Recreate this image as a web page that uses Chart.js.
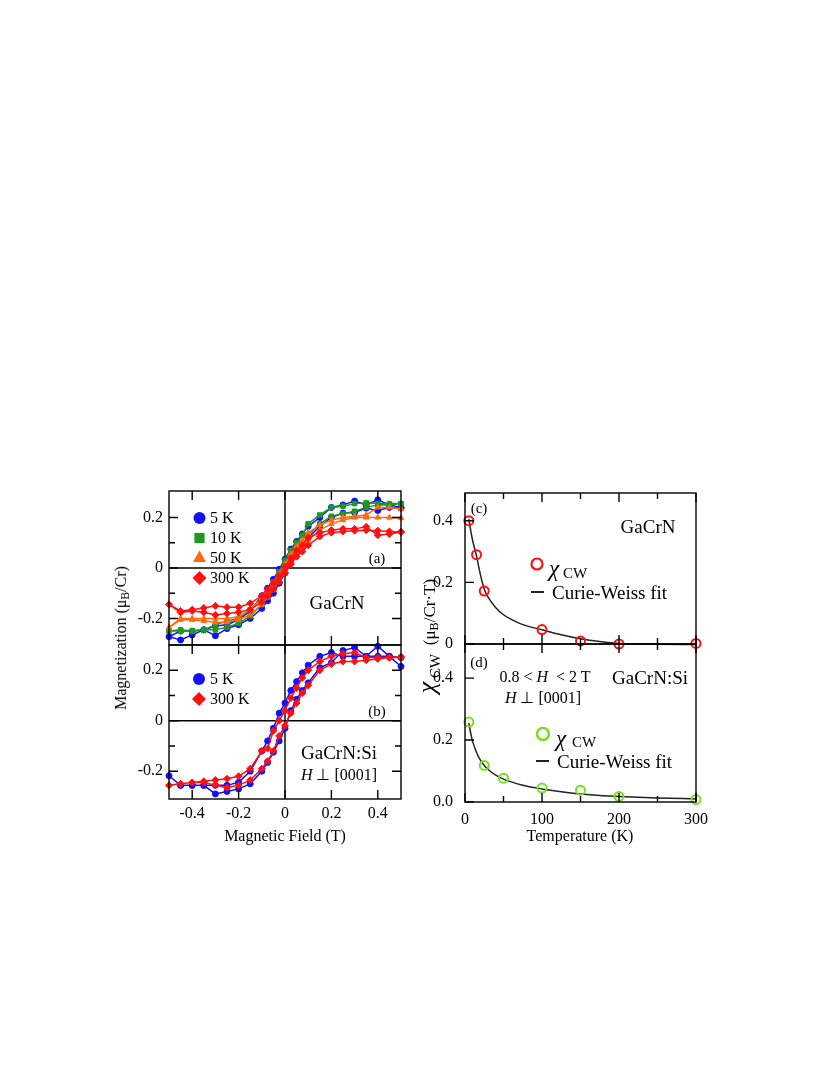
<!DOCTYPE html>
<html>
<head>
<meta charset="utf-8">
<script src="https://cdn.jsdelivr.net/npm/chart.js@4.4.0/dist/chart.umd.min.js"></script>
<style>
  body { margin: 0; background: #fff; }
  #wrap { position: relative; width: 830px; height: 1075px; font-family: 'Liberation Serif', serif; color: #000; }
  canvas { position: absolute; }
  .t { position: absolute; white-space: nowrap; line-height: 1; transform: translate(-50%, -50%); }
  .l { position: absolute; white-space: nowrap; line-height: 1; transform: translate(0, -50%); }
  .r90 { transform: translate(-50%, -50%) rotate(-90deg); }
  sub { font-size: 0.72em; vertical-align: -0.25em; line-height: 0; }
</style>
</head>
<body>
<div id="wrap">
  <canvas id="ca" width="304" height="178" style="left:109px;top:479px"></canvas>
  <canvas id="cb" width="304" height="201" style="left:109px;top:633px"></canvas>
  <canvas id="cc" width="303" height="175" style="left:405px;top:481px"></canvas>
  <canvas id="cd" width="303" height="205" style="left:405px;top:632px"></canvas>

  <div class="t r90" style="left:121px;top:638px;font-size:16px">Magnetization (μ<sub>B</sub>/Cr)</div>
  <div class="t" style="left:285px;top:836px;font-size:16px">Magnetic Field (T)</div>
  <div class="t r90" style="left:427px;top:636px;font-size:17px"><span style="font-size:26px;font-style:italic">χ</span><span style="font-size:15px;position:relative;top:5px"> CW</span>&nbsp; (μ<sub>B</sub>/Cr·T)</div>
  <div class="t" style="left:580px;top:836px;font-size:16px">Temperature (K)</div>

  <div class="l" style="left:210px;top:518px;font-size:16px">5 K</div>
  <div class="l" style="left:210px;top:538px;font-size:16px">10 K</div>
  <div class="l" style="left:210px;top:558px;font-size:16px">50 K</div>
  <div class="l" style="left:210px;top:578px;font-size:16px">300 K</div>
  <div class="t" style="left:377px;top:558px;font-size:15px">(a)</div>
  <div class="t" style="left:337px;top:602px;font-size:19px">GaCrN</div>

  <div class="l" style="left:210px;top:679px;font-size:16px">5 K</div>
  <div class="l" style="left:210px;top:699px;font-size:16px">300 K</div>
  <div class="t" style="left:377px;top:711px;font-size:15px">(b)</div>
  <div class="t" style="left:339px;top:752px;font-size:19px">GaCrN:Si</div>
  <div class="t" style="left:339px;top:775px;font-size:16px"><i>H</i> ⊥ [0001]</div>

  <div class="t" style="left:479px;top:508px;font-size:15px">(c)</div>
  <div class="t" style="left:648px;top:526px;font-size:19px">GaCrN</div>
  <div class="l" style="left:549px;top:568px;font-size:23px;font-style:italic">χ</div>
  <div class="l" style="left:563px;top:573px;font-size:15px">CW</div>
  <div class="l" style="left:552px;top:592px;font-size:19px">Curie-Weiss fit</div>

  <div class="t" style="left:479px;top:662px;font-size:15px">(d)</div>
  <div class="t" style="left:545px;top:677px;font-size:16px">0.8 &lt; <i>H</i>&nbsp; &lt; 2 T</div>
  <div class="t" style="left:543px;top:698px;font-size:16px"><i>H</i> ⊥ [0001]</div>
  <div class="t" style="left:650px;top:677px;font-size:19px">GaCrN:Si</div>
  <div class="l" style="left:556px;top:738px;font-size:23px;font-style:italic">χ</div>
  <div class="l" style="left:572px;top:742px;font-size:15px">CW</div>
  <div class="l" style="left:557px;top:761px;font-size:19px">Curie-Weiss fit</div>
</div>

<script>
Chart.defaults.font.family = "'Liberation Serif', serif";
Chart.defaults.color = "#000";

// magnetic field steps of the loops (T)
const fields = [-0.5, -0.45, -0.4, -0.35, -0.3, -0.25, -0.2, -0.15, -0.1, -0.075, -0.05, -0.025, 0,
  0.025, 0.05, 0.075, 0.1, 0.15, 0.2, 0.25, 0.3, 0.35, 0.4, 0.45, 0.5];

// (a) GaCrN, branch coming down from +0.5 (dec) and going back up (inc), in field order
const a5Dec = [-0.272, -0.25, -0.25, -0.245, -0.23, -0.225, -0.205, -0.17, -0.11, -0.08, -0.045, -0.005, 0.035,
  0.075, 0.105, 0.135, 0.165, 0.2, 0.24, 0.25, 0.265, 0.25, 0.27, 0.25, 0.24];
const a5Inc = [-0.272, -0.285, -0.265, -0.245, -0.268, -0.24, -0.225, -0.2, -0.16, -0.13, -0.1, -0.06, -0.02,
  0.02, 0.06, 0.09, 0.12, 0.165, 0.2, 0.218, 0.22, 0.237, 0.228, 0.24, 0.237];
const a10Dec = [-0.25, -0.25, -0.25, -0.245, -0.225, -0.21, -0.2, -0.165, -0.12, -0.09, -0.055, -0.015, 0.03,
  0.07, 0.1, 0.13, 0.175, 0.21, 0.24, 0.245, 0.255, 0.258, 0.255, 0.255, 0.255];
const a10Inc = [-0.25, -0.245, -0.25, -0.245, -0.245, -0.235, -0.22, -0.19, -0.145, -0.115, -0.085, -0.045, -0.01,
  0.03, 0.06, 0.09, 0.13, 0.175, 0.205, 0.215, 0.225, 0.24, 0.25, 0.25, 0.255];
const a50Dec = [-0.235, -0.2, -0.2, -0.2, -0.2, -0.2, -0.193, -0.165, -0.12, -0.09, -0.06, -0.025, 0.015,
  0.055, 0.085, 0.11, 0.14, 0.17, 0.19, 0.2, 0.205, 0.21, 0.24, 0.24, 0.235];
const a50Inc = [-0.235, -0.205, -0.205, -0.21, -0.215, -0.215, -0.205, -0.185, -0.145, -0.115, -0.085, -0.05, -0.01,
  0.03, 0.06, 0.085, 0.11, 0.15, 0.175, 0.19, 0.2, 0.2, 0.2, 0.2, 0.198];
const a300Dec = [-0.144, -0.17, -0.165, -0.158, -0.15, -0.155, -0.155, -0.14, -0.11, -0.085, -0.06, -0.03, 0.005,
  0.04, 0.07, 0.09, 0.12, 0.14, 0.15, 0.155, 0.155, 0.163, 0.13, 0.135, 0.143];
const a300Inc = [-0.144, -0.176, -0.17, -0.175, -0.186, -0.18, -0.175, -0.165, -0.135, -0.11, -0.085, -0.055, -0.02,
  0.015, 0.045, 0.065, 0.09, 0.125, 0.14, 0.145, 0.148, 0.15, 0.148, 0.145, 0.143];

// (b) GaCrN:Si
const b5Dec = [-0.218, -0.256, -0.256, -0.256, -0.256, -0.256, -0.244, -0.2, -0.12, -0.08, -0.03, 0.03, 0.07,
  0.12, 0.155, 0.19, 0.22, 0.255, 0.27, 0.255, 0.255, 0.255, 0.255, 0.255, 0.25];
const b5Inc = [-0.218, -0.256, -0.256, -0.256, -0.29, -0.28, -0.27, -0.25, -0.2, -0.165, -0.125, -0.08, -0.03,
  0.04, 0.085, 0.12, 0.15, 0.21, 0.23, 0.278, 0.29, 0.255, 0.295, 0.255, 0.215];
const b300Dec = [-0.256, -0.25, -0.245, -0.24, -0.235, -0.23, -0.22, -0.19, -0.12, -0.11, -0.04, 0.0, 0.04,
  0.09, 0.13, 0.17, 0.2, 0.235, 0.255, 0.265, 0.27, 0.25, 0.25, 0.25, 0.253];
const b300Inc = [-0.256, -0.25, -0.245, -0.245, -0.255, -0.265, -0.255, -0.235, -0.19, -0.16, -0.12, -0.06, -0.02,
  0.03, 0.07, 0.11, 0.14, 0.2, 0.225, 0.235, 0.235, 0.24, 0.245, 0.25, 0.25];

// (c), (d) Curie-Weiss susceptibility
const cTemps = [5, 15, 25, 100, 150, 200, 300];
const cChi = [0.4, 0.29, 0.172, 0.047, 0.01, 0.0, 0.002];
const dTemps = [5, 25, 50, 100, 150, 200, 300];
const dChi = [0.258, 0.118, 0.077, 0.045, 0.038, 0.018, 0.008];
const fitTemps = [5, 8, 10, 15, 20, 25, 30, 40, 50, 60, 75, 100, 125, 150, 175, 200, 250, 300];
const cFit = [0.405, 0.36, 0.335, 0.285, 0.225, 0.178, 0.152, 0.118, 0.095, 0.08, 0.063, 0.046, 0.03, 0.017, 0.008, 0.002, -0.001, -0.002];
const dFit = [0.255, 0.215, 0.195, 0.16, 0.135, 0.118, 0.105, 0.087, 0.074, 0.065, 0.054, 0.042, 0.033, 0.026, 0.021, 0.018, 0.013, 0.01];

// ticks
const mxTicks = [-0.4, -0.2, 0, 0.2, 0.4];
const mxLabels = ["-0.4", "-0.2", "0", "0.2", "0.4"];
const myTicks = [-0.2, 0, 0.2];
const myLabels = ["-0.2", "0", "0.2"];
const myMinor = [-0.1, 0.1];
const tTicks = [0, 100, 200, 300];
const tLabels = ["0", "100", "200", "300"];
const tMinor = [50, 150, 250];
const cyTicks = [0, 0.2, 0.4];
const cyLabels = ["0", "0.2", "0.4"];
const dyLabels = ["0.0", "0.2", "0.4"];

const BLUE = "#1010ff", GREEN = "#1f9a1f", ORANGE = "#ff6a10", RED = "#ff1010", LIME = "#78e020";

function loop(dec, inc) {
  const pts = [];
  for (let i = fields.length - 1; i >= 0; i--) pts.push({ x: fields[i], y: dec[i] });
  for (let i = 1; i < fields.length; i++) pts.push({ x: fields[i], y: inc[i] });
  return pts;
}
function pairs(xs, ys) { return xs.map((x, i) => ({ x: x, y: ys[i] })); }

function shape(ctx, s, x, y, r, color, open, lw) {
  ctx.save();
  ctx.fillStyle = color; ctx.strokeStyle = color; ctx.lineWidth = lw || 1;
  ctx.beginPath();
  if (s === "circle") ctx.arc(x, y, r, 0, Math.PI * 2);
  else if (s === "rect") ctx.rect(x - r * 0.85, y - r * 0.85, r * 1.7, r * 1.7);
  else if (s === "triangle") { ctx.moveTo(x, y - r); ctx.lineTo(x + r, y + r * 0.75); ctx.lineTo(x - r, y + r * 0.75); ctx.closePath(); }
  else if (s === "diamond") { ctx.moveTo(x, y - r); ctx.lineTo(x + r, y); ctx.lineTo(x, y + r); ctx.lineTo(x - r, y); ctx.closePath(); }
  if (open) ctx.stroke(); else ctx.fill();
  ctx.restore();
}

const framePlugin = {
  id: "frame",
  beforeDatasetsDraw(chart, args, o) {
    if (!o.zero) return;
    const { ctx, chartArea: a, scales: { x, y } } = chart;
    ctx.save();
    ctx.strokeStyle = "#000"; ctx.lineWidth = 1.4;
    const y0 = y.getPixelForValue(0), x0 = x.getPixelForValue(0);
    ctx.beginPath();
    ctx.moveTo(a.left, y0); ctx.lineTo(a.right, y0);
    ctx.moveTo(x0, a.top); ctx.lineTo(x0, a.bottom);
    ctx.stroke();
    ctx.restore();
  },
  afterDraw(chart, args, o) {
    const { ctx, chartArea: a, scales: { x, y } } = chart;
    ctx.save();
    ctx.strokeStyle = "#000"; ctx.lineWidth = 1.4;
    ctx.strokeRect(a.left, a.top, a.right - a.left, a.bottom - a.top);
    ctx.beginPath();
    const xt = (vals, len) => vals.forEach(v => {
      const p = x.getPixelForValue(v);
      ctx.moveTo(p, a.top); ctx.lineTo(p, a.top + len);
      ctx.moveTo(p, a.bottom); ctx.lineTo(p, a.bottom - len);
    });
    const yt = (vals, len) => vals.forEach(v => {
      const p = y.getPixelForValue(v);
      ctx.moveTo(a.left, p); ctx.lineTo(a.left + len, p);
      if (o.right) { ctx.moveTo(a.right, p); ctx.lineTo(a.right - len, p); }
    });
    xt(o.xMajor || [], 9); xt(o.xMinor || [], 6);
    yt(o.yMajor || [], 9); yt(o.yMinor || [], 6);
    ctx.stroke();
    (o.marks || []).forEach(m => shape(ctx, m.s, m.x - o.ox, m.y - o.oy, m.r, m.c, m.open, m.lw));
    (o.dashes || []).forEach(d => {
      ctx.beginPath(); ctx.lineWidth = 2; ctx.strokeStyle = "#222";
      ctx.moveTo(d.x1 - o.ox, d.y - o.oy); ctx.lineTo(d.x2 - o.ox, d.y - o.oy); ctx.stroke();
    });
    ctx.restore();
  }
};

function axis(min, max, ticks, labels, show, size, pad, horiz) {
  return {
    type: "linear", min: min, max: max,
    afterBuildTicks: s => { s.ticks = ticks.map(v => ({ value: v })); },
    afterFit: s => {
      if (horiz) { s.height = size; s.paddingLeft = 0; s.paddingRight = 0; }
      else { s.width = size; s.paddingTop = 0; s.paddingBottom = 0; }
    },
    grid: { display: false, drawTicks: false },
    border: { display: false },
    ticks: { display: show, padding: pad, autoSkip: false, maxRotation: 0, color: "#000",
      font: { size: 16 }, callback: (v, i) => labels[i] }
  };
}

function makeChart(id, datasets, scales, frame) {
  return new Chart(document.getElementById(id), {
    type: "scatter",
    data: { datasets: datasets },
    options: {
      responsive: false, animation: false,
      layout: { padding: { top: 12, right: 12, left: 0, bottom: 0 } },
      plugins: { legend: { display: false }, tooltip: { enabled: false }, frame: frame },
      scales: scales
    },
    plugins: [framePlugin]
  });
}

function loopSet(data, color, style, r, order) {
  return { data: data, showLine: true, borderColor: color, backgroundColor: color, borderWidth: 1.5,
    pointStyle: style, pointRadius: r, pointBorderWidth: 1, clip: false, order: order };
}

makeChart("ca", [
  loopSet(loop(a300Dec, a300Inc), RED, "rectRot", 3.5, 0),
  loopSet(loop(a50Dec, a50Inc), ORANGE, "triangle", 3.2, 1),
  loopSet(loop(a10Dec, a10Inc), GREEN, "rect", 3.2, 2),
  loopSet(loop(a5Dec, a5Inc), BLUE, "circle", 3, 3)
], {
  x: axis(-0.5, 0.5, mxTicks, mxLabels, false, 12, 6, true),
  y: axis(-0.305, 0.305, myTicks, myLabels, true, 60, 6, false)
}, {
  zero: true, right: true, xMajor: mxTicks, yMajor: myTicks, yMinor: myMinor, ox: 109, oy: 479,
  marks: [
    { s: "circle", x: 199.5, y: 518, r: 6, c: BLUE },
    { s: "rect", x: 199.5, y: 538, r: 6, c: GREEN },
    { s: "triangle", x: 199.5, y: 557, r: 6.5, c: ORANGE },
    { s: "diamond", x: 199.5, y: 578, r: 7, c: RED }
  ]
});

makeChart("cb", [
  loopSet(loop(b300Dec, b300Inc), RED, "rectRot", 3.5, 0),
  loopSet(loop(b5Dec, b5Inc), BLUE, "circle", 3, 1)
], {
  x: axis(-0.5, 0.5, mxTicks, mxLabels, true, 35, 5, true),
  y: axis(-0.31, 0.30, myTicks, myLabels, true, 60, 6, false)
}, {
  zero: true, right: true, xMajor: mxTicks, yMajor: myTicks, yMinor: myMinor, ox: 109, oy: 633,
  marks: [
    { s: "circle", x: 199, y: 679, r: 6, c: BLUE },
    { s: "diamond", x: 199, y: 699, r: 7, c: RED }
  ]
});

function chiSets(temps, chi, fit, color) {
  return [
    { data: pairs(temps, chi), showLine: false, pointStyle: "circle", pointRadius: 4.5,
      pointBorderWidth: 2, borderColor: color, backgroundColor: "rgba(0,0,0,0)", clip: false, order: 0 },
    { data: pairs(fitTemps, fit), showLine: true, pointRadius: 0, borderColor: "#222", borderWidth: 1.5,
      cubicInterpolationMode: "monotone", clip: false, order: 1 }
  ];
}

makeChart("cc", chiSets(cTemps, cChi, cFit, RED), {
  x: axis(0, 300, tTicks, tLabels, false, 12, 6, true),
  y: axis(0, 0.49, cyTicks, cyLabels, true, 60, 12, false)
}, {
  xMajor: tTicks, xMinor: tMinor, yMajor: cyTicks, ox: 405, oy: 481,
  marks: [{ s: "circle", x: 537, y: 564, r: 5.5, c: RED, open: true, lw: 2.2 }],
  dashes: [{ x1: 531, x2: 544, y: 592 }]
});

makeChart("cd", chiSets(dTemps, dChi, dFit, LIME), {
  x: axis(0, 300, tTicks, tLabels, true, 35, 8, true),
  y: axis(0, 0.51, cyTicks, dyLabels, true, 60, 12, false)
}, {
  xMajor: tTicks, xMinor: tMinor, yMajor: cyTicks, ox: 405, oy: 632,
  marks: [{ s: "circle", x: 543, y: 734, r: 6, c: LIME, open: true, lw: 2.5 }],
  dashes: [{ x1: 536, x2: 549, y: 761 }]
});
</script>
</body>
</html>
